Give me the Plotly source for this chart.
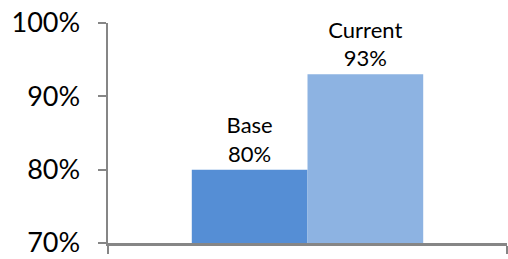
import plotly.graph_objects as go

categories = [""]
series_names = ["Base", "Current"]
base_values = [0.80]
current_values = [0.93]
tick_vals = [0.7, 0.8, 0.9, 1.0]
tick_text = ["70%", "80%", "90%", "100%"]

colors = {"Base": "#558ED5", "Current": "#8DB3E2"}
font_family = "Lato, 'Open Sans', sans-serif"

fig = go.Figure()
for name, vals in zip(series_names, [base_values, current_values]):
    fig.add_trace(go.Bar(
        x=categories, y=vals, name=name,
        marker=dict(color=colors[name], line=dict(width=0)),
        text=[f"{name}<br>{round(v*100)}%" for v in vals],
        textposition="outside", cliponaxis=False,
        textfont=dict(family=font_family, size=22, color="#000000"),
        hoverinfo="skip",
    ))

fig.update_layout(
    width=508, height=259,
    margin=dict(l=108, r=1, t=23, b=16),
    plot_bgcolor="white", paper_bgcolor="white",
    barmode="group", bargap=0.42, bargroupgap=0,
    showlegend=False,
    font=dict(family=font_family, color="#000000"),
    uniformtext=dict(mode=False),
)
fig.update_xaxes(
    type="category", showticklabels=False, showgrid=False, automargin=False,
    showline=True, linecolor="#868686", linewidth=2.5,
    ticks="outside", tickson="boundaries", ticklen=8, tickcolor="#868686", tickwidth=2,
)
fig.update_yaxes(
    range=[0.7, 1.0], tickvals=tick_vals, ticktext=tick_text,
    showgrid=False, zeroline=False, automargin=False,
    showline=True, linecolor="#868686", linewidth=2.5,
    ticks="outside", ticklen=8, tickcolor="#868686", tickwidth=2,
    tickfont=dict(family=font_family, size=27, color="#000000"),
    ticklabelstandoff=12,
)
fig.write_html(
    "out.html",
    config={"displayModeBar": False, "staticPlot": True},
    post_script="document.body.style.margin='0';document.body.style.overflow='hidden';",
)
